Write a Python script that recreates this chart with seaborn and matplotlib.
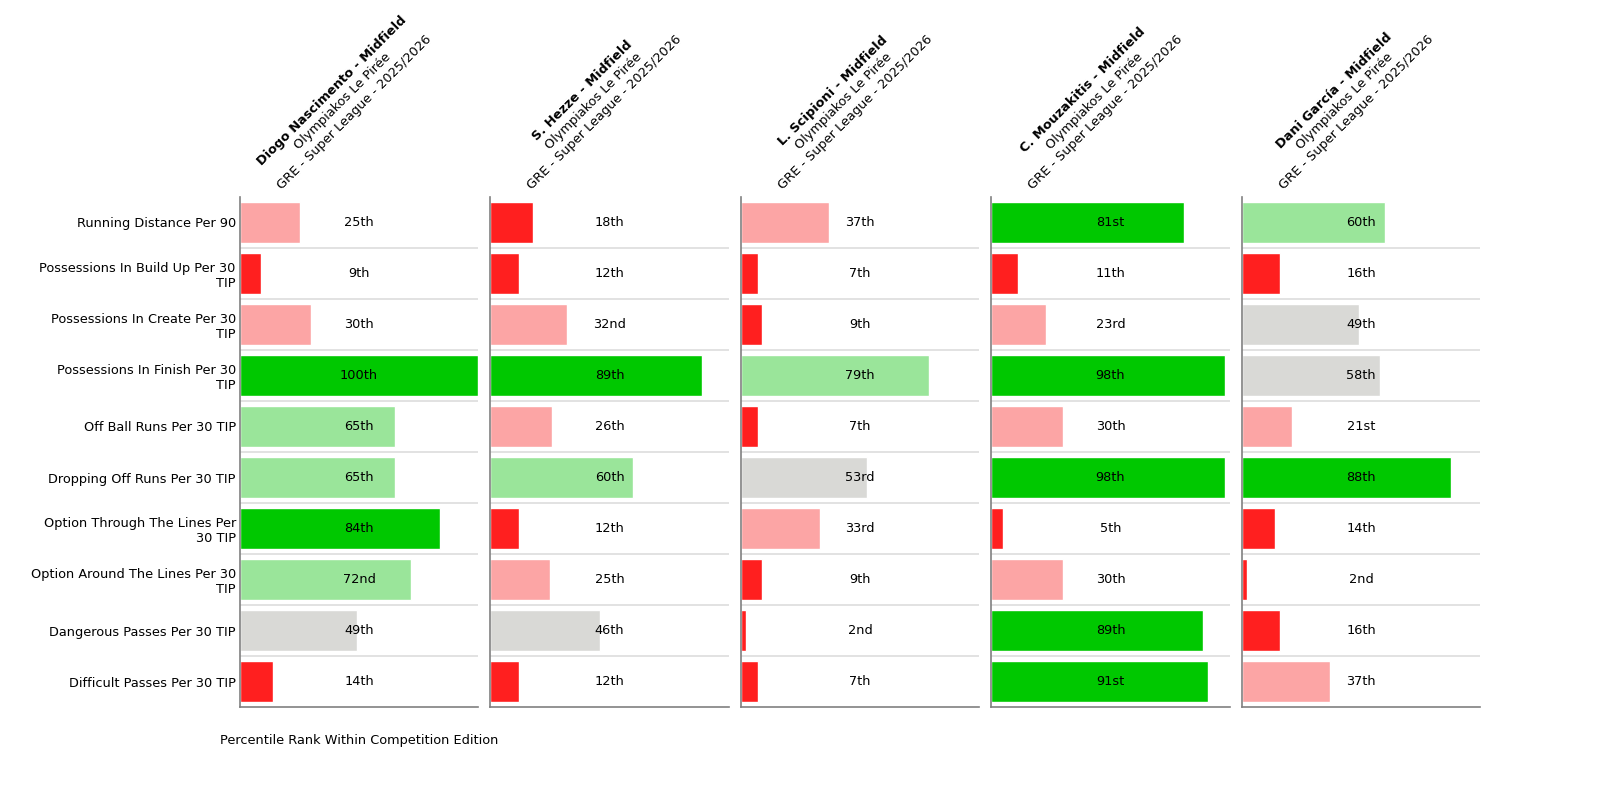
import textwrap
import matplotlib
matplotlib.use('Agg')
import matplotlib.pyplot as plt
import pandas as pd
import seaborn as sns

# Data
metrics = ['Running Distance Per 90', 'Possessions In Build Up Per 30 TIP',
           'Possessions In Create Per 30 TIP', 'Possessions In Finish Per 30 TIP',
           'Off Ball Runs Per 30 TIP', 'Dropping Off Runs Per 30 TIP',
           'Option Through The Lines Per 30 TIP', 'Option Around The Lines Per 30 TIP',
           'Dangerous Passes Per 30 TIP', 'Difficult Passes Per 30 TIP']

players = ['Diogo Nascimento - Midfield', 'S. Hezze - Midfield', 'L. Scipioni - Midfield',
           'C. Mouzakitis - Midfield', 'Dani García - Midfield']
team = 'Olympiakos Le Pirée'
league = 'GRE - Super League - 2025/2026'

nascimento = [25, 9, 30, 100, 65, 65, 84, 72, 49, 14]
hezze = [18, 12, 32, 89, 26, 60, 12, 25, 46, 12]
scipioni = [37, 7, 9, 79, 7, 53, 33, 9, 2, 7]
mouzakitis = [81, 11, 23, 98, 30, 98, 5, 30, 89, 91]
garcia = [60, 16, 49, 58, 21, 88, 14, 2, 16, 37]
values = [nascimento, hezze, scipioni, mouzakitis, garcia]


def bar_color(v):
    if v < 20:
        return '#ff1f1f'
    if v < 40:
        return '#fca5a5'
    if v < 60:
        return '#d9d9d6'
    if v < 80:
        return '#9ae59a'
    return '#00c800'


def ordinal(n):
    if 10 <= n % 100 <= 20:
        suf = 'th'
    else:
        suf = {1: 'st', 2: 'nd', 3: 'rd'}.get(n % 10, 'th')
    return f'{n}{suf}'


sns.set_theme(style='white')
plt.rcParams['font.family'] = ['DejaVu Sans']
plt.rcParams['text.color'] = 'black'
plt.rcParams['axes.labelcolor'] = 'black'
plt.rcParams['ytick.color'] = 'black'
fs = 9.3

fig, axes = plt.subplots(1, 5, figsize=(16, 8), dpi=100, sharey=True)
fig.subplots_adjust(left=0.15, right=0.925, bottom=0.116, top=0.754, wspace=0.0525)

labels = [textwrap.fill(m, 30) for m in metrics]

for i, ax in enumerate(axes):
    df = pd.DataFrame({'metric': labels, 'value': values[i]})
    pal = {lab: bar_color(v) for lab, v in zip(labels, values[i])}
    sns.barplot(data=df, x='value', y='metric', hue='metric', palette=pal,
                legend=False, orient='h', width=0.8, saturation=1, ax=ax)
    ax.set_xlim(0, 100)
    ax.set_ylim(len(metrics) - 0.5, -0.5)
    for k in range(len(metrics) - 1):
        ax.axhline(k + 0.5, color='#dddddd', lw=1.2, zorder=0)
    for k, v in enumerate(values[i]):
        ax.text(50, k, ordinal(v), ha='center', va='center', fontsize=fs, color='black')

    for s in ['top', 'right']:
        ax.spines[s].set_visible(False)
    for s in ['left', 'bottom']:
        ax.spines[s].set_color('#808080')
        ax.spines[s].set_linewidth(1.2)
    ax.set_xticks([])
    ax.set_ylabel('')
    ax.tick_params(axis='y', length=0, labelsize=fs, pad=3)
    if i > 0:
        ax.tick_params(axis='y', labelleft=False)

    # rotated three-line header
    lines = [(players[i], 'bold', (-19.5, 76.5)),
             (team, 'normal', (-11.5, 68.5)),
             (league, 'normal', (-3.5, 60.5))]
    for txt, fw, off in lines:
        ax.annotate(txt, xy=(0.5, 1), xycoords='axes fraction', xytext=off,
                    textcoords='offset points', rotation=45, rotation_mode='anchor',
                    ha='center', va='center', fontsize=fs, fontweight=fw, color='black')

axes[0].set_xlabel('Percentile Rank Within Competition Edition', fontsize=fs, labelpad=19)
for ax in axes[1:]:
    ax.set_xlabel('')

fig.savefig('out.png', dpi=100)
